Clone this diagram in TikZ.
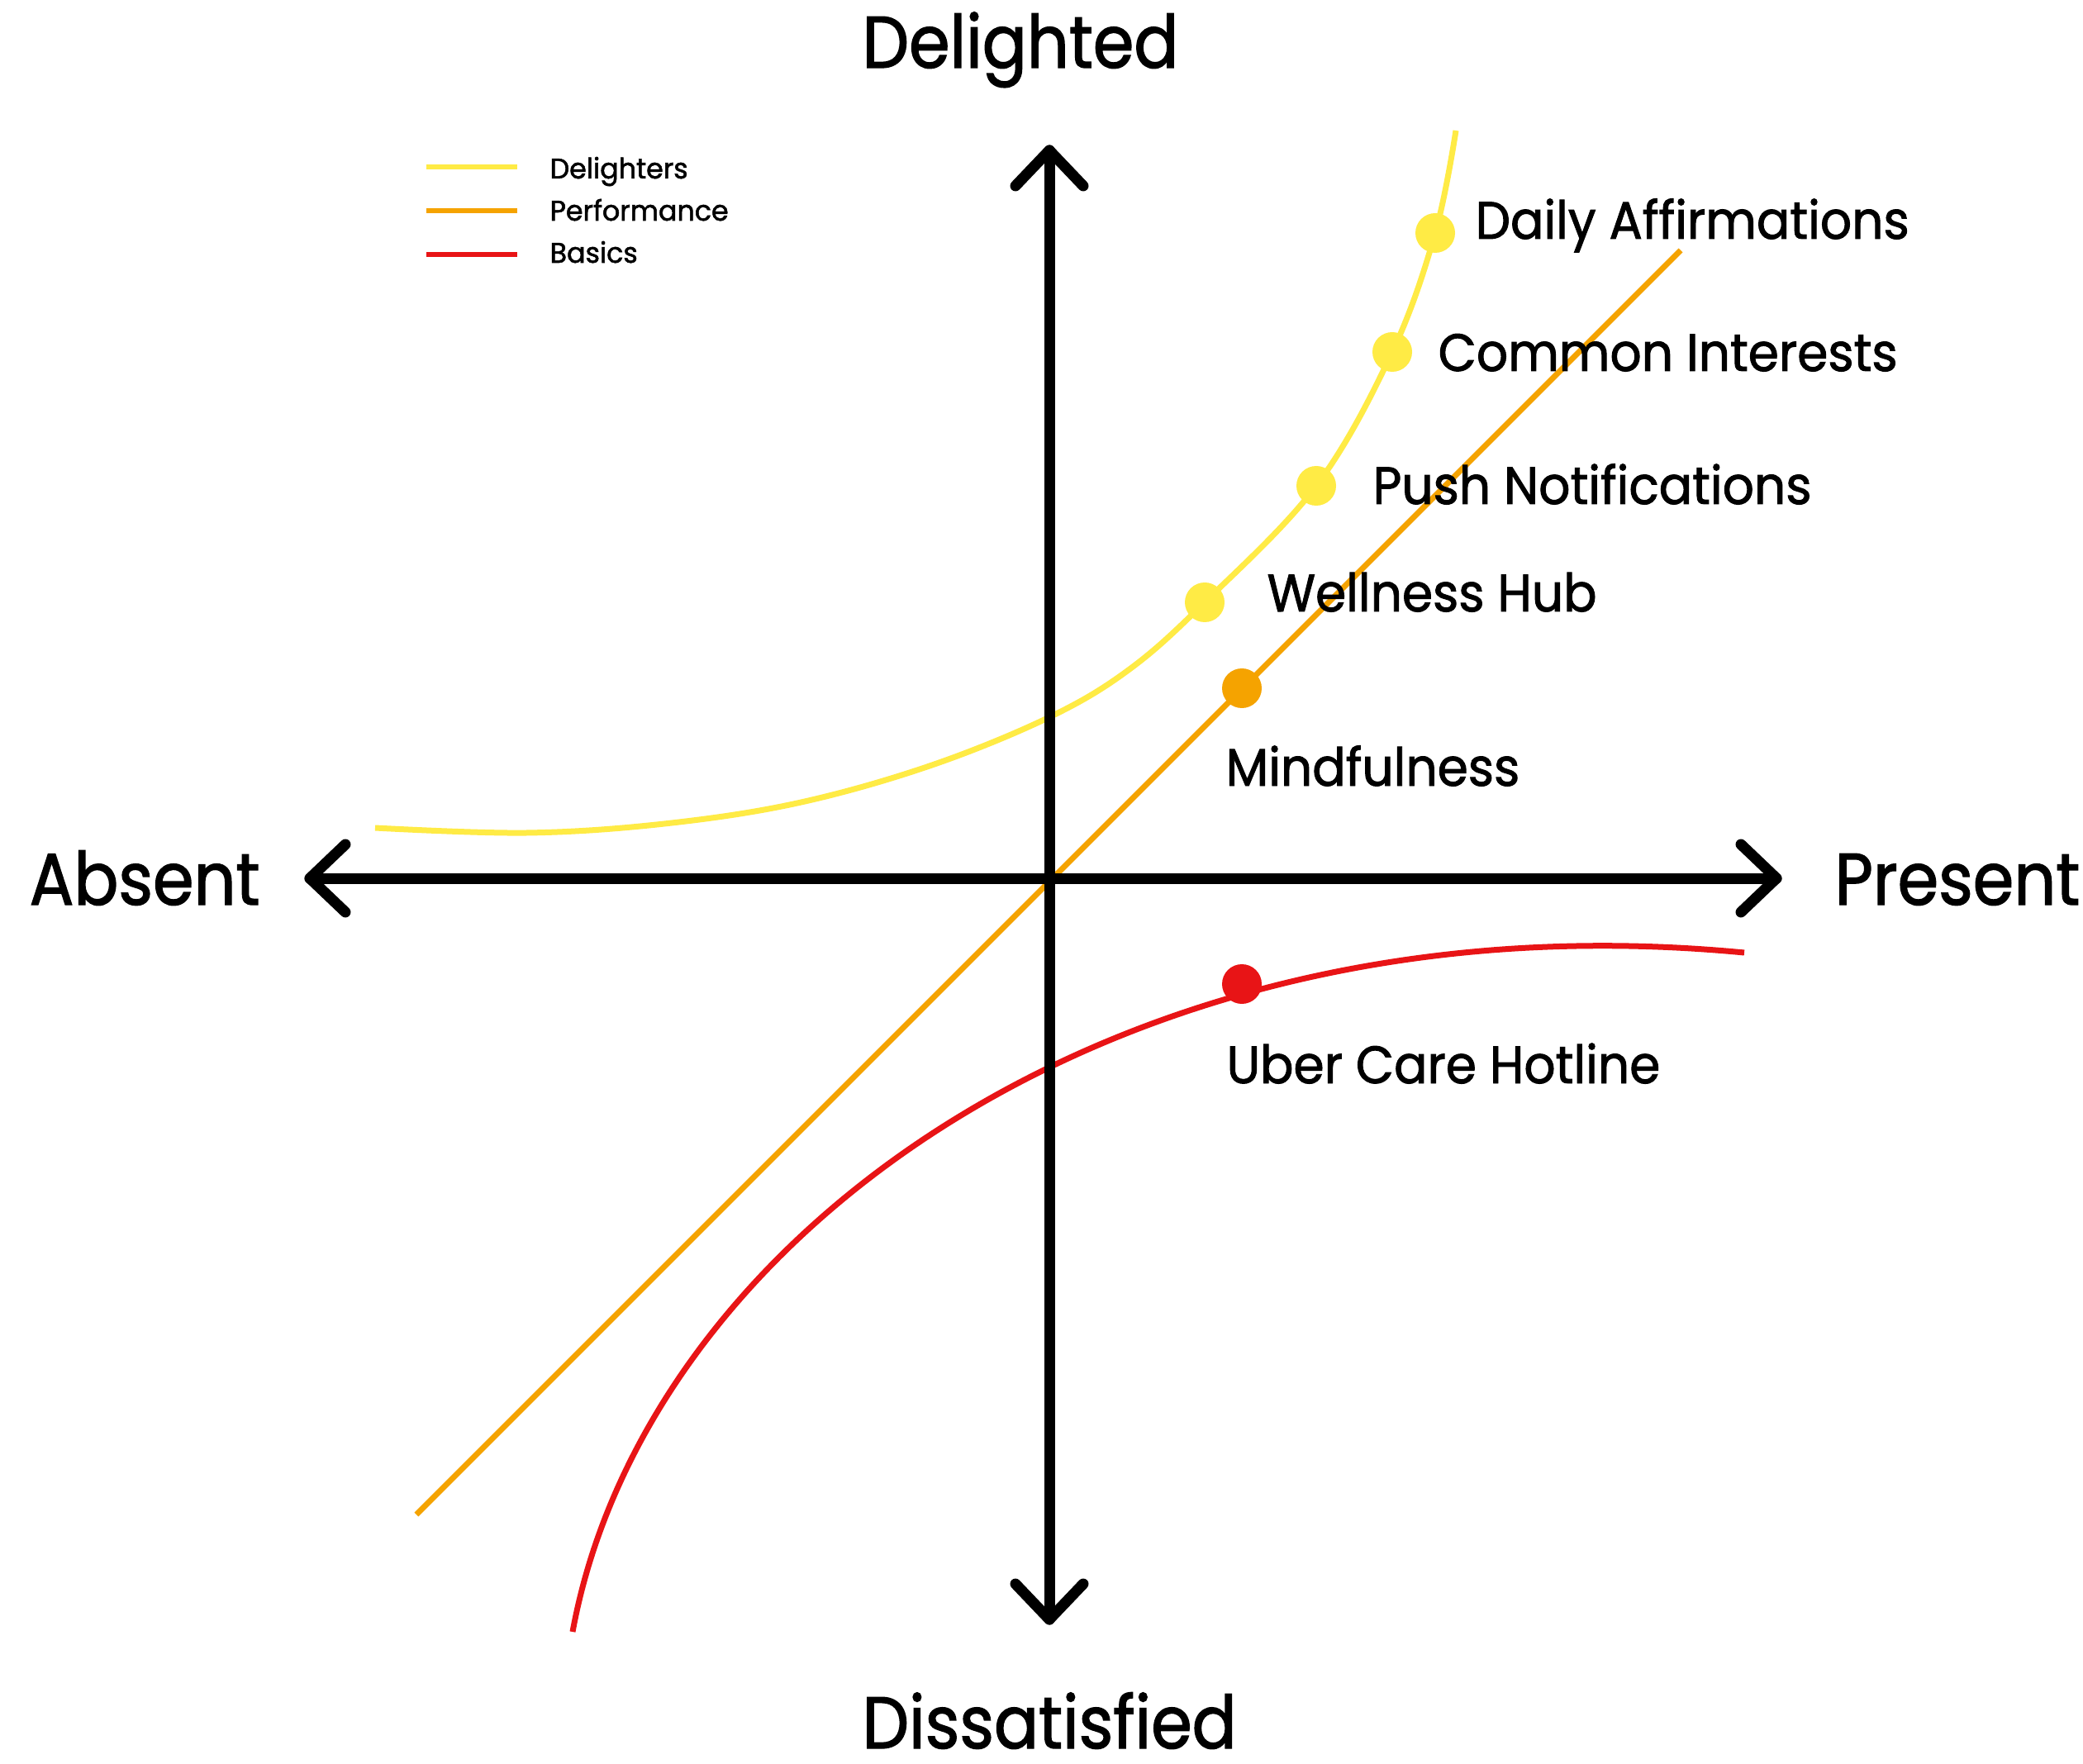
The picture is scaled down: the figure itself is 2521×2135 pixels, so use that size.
\documentclass[tikz,border=0pt]{standalone}
\usepackage{fontspec}
\setmainfont{Poppins}
\newfontfamily\bigfont{Poppins}[FakeStretch=0.9,FakeBold=1.5]
\newfontfamily\midfont{Poppins}[FakeStretch=0.94,FakeBold=1.5]
\newfontfamily\legfont{Poppins}[FakeStretch=0.97,FakeBold=1.5]
\definecolor{yel}{HTML}{FFEB45}
\definecolor{ora}{HTML}{F5A300}
\definecolor{rd}{HTML}{E81416}
\begin{document}
\begin{tikzpicture}[x=0.3pt,y=-0.3pt,
  axisline/.style={line width=3.9pt,line cap=round,line join=round},
  curve/.style={line width=2.1pt},
  legline/.style={line width=1.8pt},
  dot/.style={circle,inner sep=0pt,minimum size=14.4pt},
  biglab/.style={anchor=base west,inner sep=0pt,font=\bigfont\fontsize{26.6}{30}\selectfont},
  midlab/.style={anchor=base west,inner sep=0pt,font=\midfont\fontsize{19.1}{22}\selectfont},
  leglab/.style={anchor=base west,inner sep=0pt,font=\legfont\fontsize{10.3}{12}\selectfont}]
\useasboundingbox[fill=white] (0,0) rectangle (2521,2135);
% axis coordinates
\coordinate (L) at (375,1063);
\coordinate (R) at (2150,1063);
\coordinate (T) at (1270,182);
\coordinate (B) at (1270,1960);
% curves
\draw[curve,yel] plot[smooth,tension=0.6] coordinates {(454,1002) (637,1008) (804,997) (965,972) (1125,927) (1270,868) (1367,810) (1458,729) (1593,588) (1685,426) (1737,282) (1762,158)};
\coordinate (os) at (504,1833);
\coordinate (oe) at (2034,303);
\draw[curve,ora] (os) -- (oe);
\coordinate (rs) at (693,1975);
\coordinate (re) at (2111,1153);
\draw[curve,rd] (rs) .. controls (780,1500) and (1350,1080) .. (re);
% axes
\draw[axisline] (L) -- (R);
\draw[axisline] (T) -- (B);
\draw[axisline] (L) ++(43,-41) -- (L) -- ++(43,41);
\draw[axisline] (R) ++(-43,-41) -- (R) -- ++(-43,41);
\draw[axisline] (T) ++(-41,43) -- (T) -- ++(41,43);
\draw[axisline] (B) ++(-41,-43) -- (B) -- ++(41,-43);
% dots
\node[dot,fill=yel] (da) at (1737,282) {};
\node[dot,fill=yel] (ci) at (1685,426) {};
\node[dot,fill=yel] (pn) at (1593,588) {};
\node[dot,fill=yel] (wh) at (1458,729) {};
\node[dot,fill=ora] (mf) at (1503,833) {};
\node[dot,fill=rd] (uc) at (1503,1191) {};
% point labels
\node[midlab] (tda) at (1785,289) {Daily Affirmations};
\node[midlab] (tci) at (1740,449) {Common Interests};
\node[midlab] (tpn) at (1661,610) {Push Notifications};
\node[midlab] (twh) at (1533,740) {Wellness Hub};
\node[midlab] (tmf) at (1483,951) {Mindfulness};
\node[midlab] (tuc) at (1484,1311) {Uber Care Hotline};
% axis labels
\node[biglab] (tdel) at (1043,82) {Delighted};
\node[biglab] (tdis) at (1043,2116) {Dissatisfied};
\node[biglab] (tabs) at (35,1095) {Absent};
\node[biglab] (tpre) at (2220,1095) {Present};
% legend
\coordinate (l1a) at (516,202); \coordinate (l1b) at (626,202);
\coordinate (l2a) at (516,255); \coordinate (l2b) at (626,255);
\coordinate (l3a) at (516,308); \coordinate (l3b) at (626,308);
\draw[legline,yel] (l1a) -- (l1b);
\draw[legline,ora] (l2a) -- (l2b);
\draw[legline,rd] (l3a) -- (l3b);
\node[leglab] (tl1) at (665,216) {Delighters};
\node[leglab] (tl2) at (665,267) {Performance};
\node[leglab] (tl3) at (665,318) {Basics};
\end{tikzpicture}
\end{document}
